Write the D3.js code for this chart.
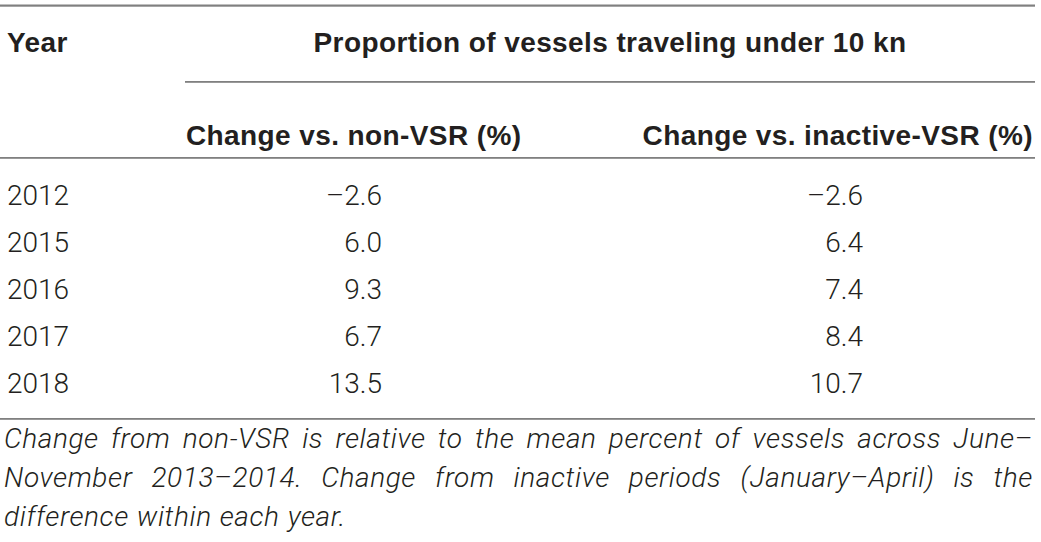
<!DOCTYPE html>
<html lang="en">
<head>
<meta charset="UTF-8">
<title>Proportion of vessels traveling under 10 kn</title>
<script src="https://d3js.org/d3.v7.min.js"></script>
<style>
  html, body { margin: 0; padding: 0; background: #fff; overflow: hidden; }
  svg { display: block; }
  text { font-family: Roboto, "Liberation Sans", Arial, sans-serif; fill: #231f20; }
  .bold text { font-family: "Liberation Sans", Arial, sans-serif; font-weight: 700; letter-spacing: 0.4px; }
  .light text { font-weight: 300; }
</style>
</head>
<body>
<div id="chart"></div>
<script>
// table data
const years = ["2012", "2015", "2016", "2017", "2018"];
const nonVsr = [-2.6, 6.0, 9.3, 6.7, 13.5];
const inactiveVsr = [-2.6, 6.4, 7.4, 8.4, 10.7];

const yearHeader = "Year";
const groupHeader = "Proportion of vessels traveling under 10 kn";
const colHeaders = ["Change vs. non-VSR (%)", "Change vs. inactive-VSR (%)"];
const footLines = [
  "Change from non-VSR is relative to the mean percent of vessels across June\u2013",
  "November 2013\u20132014. Change from inactive periods (January\u2013April) is the",
  "difference within each year."
];

const width = 1041, height = 542;
const right = 1035;

const svg = d3.select("#chart").append("svg")
  .attr("width", width)
  .attr("height", height);

const fmt = v => d3.format(".1f")(v).replace("\u2212", "\u2013");

// row positions
const y = d3.scalePoint()
  .domain(years)
  .range([205, 393]);

// rules (drawn as thin rects)
const rules = [
  {x1: 0, y: 4.5, h: 2.2},
  {x1: 185, y: 81, h: 1.8},
  {x1: 0, y: 157, h: 1.8},
  {x1: 0, y: 418, h: 1.8}
];
svg.append("g")
  .selectAll("rect")
  .data(rules)
  .join("rect")
  .attr("x", d => d.x1)
  .attr("y", d => d.y)
  .attr("width", d => right - d.x1)
  .attr("height", d => d.h)
  .attr("fill", "#808080");

// headers
const head = svg.append("g").attr("class", "bold").attr("font-size", 28);

head.append("text")
  .attr("x", 7).attr("y", 52)
  .text(yearHeader);

head.append("text")
  .attr("x", 610).attr("y", 52)
  .attr("text-anchor", "middle")
  .text(groupHeader);

head.append("text")
  .attr("x", 186).attr("y", 145)
  .text(colHeaders[0]);

head.append("text")
  .attr("x", 1033).attr("y", 145)
  .attr("text-anchor", "end")
  .text(colHeaders[1]);

// body rows
const rows = svg.append("g").attr("class", "light").attr("font-size", 28);

rows.selectAll(".year")
  .data(years)
  .join("text")
  .attr("x", 7)
  .attr("y", d => y(d))
  .text(d => d);

rows.selectAll(".c1")
  .data(nonVsr)
  .join("text")
  .attr("x", 382)
  .attr("y", (d, i) => y(years[i]))
  .attr("text-anchor", "end")
  .text(fmt);

rows.selectAll(".c2")
  .data(inactiveVsr)
  .join("text")
  .attr("x", 863)
  .attr("y", (d, i) => y(years[i]))
  .attr("text-anchor", "end")
  .text(fmt);

// footnote, justified by hand
const foot = svg.append("g").attr("class", "light")
  .attr("font-size", 28)
  .attr("font-style", "italic")
  .style("letter-spacing", "0.6px");

const footY = [448, 487, 526];
footLines.forEach((line, li) => {
  const words = line.split(" ");
  const g = foot.append("g");
  const nodes = words.map(w => g.append("text").attr("y", footY[li]).text(w));
  const widths = nodes.map(n => n.node().getComputedTextLength());
  const total = d3.sum(widths);
  const last = li === footLines.length - 1;
  const gap = last ? 8 : (right - 4 - 2 - total) / (words.length - 1);
  let x = 4;
  nodes.forEach((n, i) => {
    n.attr("x", x);
    x += widths[i] + gap;
  });
});
</script>
</body>
</html>
